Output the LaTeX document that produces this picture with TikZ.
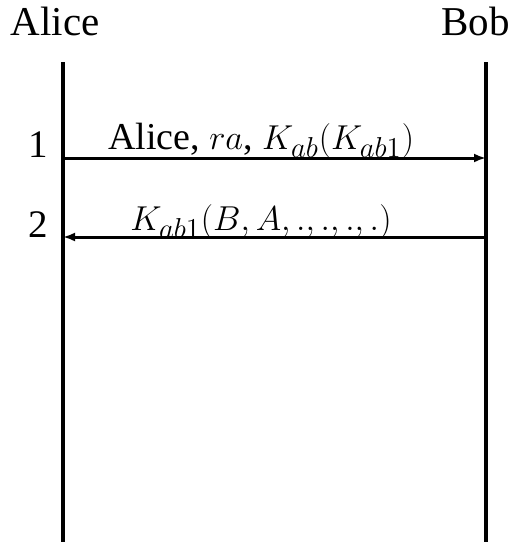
\documentclass[tikz,border=0pt]{standalone}
\usepackage{fontspec}
\setmainfont{Liberation Serif}
\usetikzlibrary{arrows.meta}
\begin{document}
\begin{tikzpicture}[x=0.5pt,y=-0.5pt,
  party/.style={font=\fontsize{20.5}{24}\selectfont, inner sep=0pt},
  msg/.style={font=\fontsize{19}{23}\selectfont, inner sep=0pt, anchor=base},
  stepnum/.style={font=\fontsize{19.5}{23}\selectfont, inner sep=0pt, anchor=base},
  lifeline/.style={line width=2pt},
  arrowline/.style={line width=1.5pt, -{Latex[length=6pt,width=4.5pt]}}]
\useasboundingbox (0,0) rectangle (515,542);
% participants
\node[party, anchor=base] (alice) at (55,35) {Alice};
\node[party, anchor=base east] (bob) at (510,35) {Bob};
% lifelines
\coordinate (atop) at (63,62);
\coordinate (abot) at (63,542);
\coordinate (btop) at (486,62);
\coordinate (bbot) at (486,542);
\draw[lifeline] (atop) -- (abot);
\draw[lifeline] (btop) -- (bbot);
% message endpoints
\coordinate (a1) at (63,158);
\coordinate (b1) at (486,158);
\coordinate (a2) at (63,237);
\coordinate (b2) at (486,237);
% messages
\draw[arrowline] (a1) -- (b1);
\draw[arrowline] (b2) -- (a2);
\node[msg] (m1) at (261,149) {Alice, $ra$, $K_{ab}(K_{ab1})$};
\node[msg] (m2) at (261,230) {$K_{ab1}(B, A, ., ., ., .)$};
% step numbers
\node[stepnum] (n1) at (38,157) {1};
\node[stepnum] (n2) at (38,237) {2};
\end{tikzpicture}
\end{document}
